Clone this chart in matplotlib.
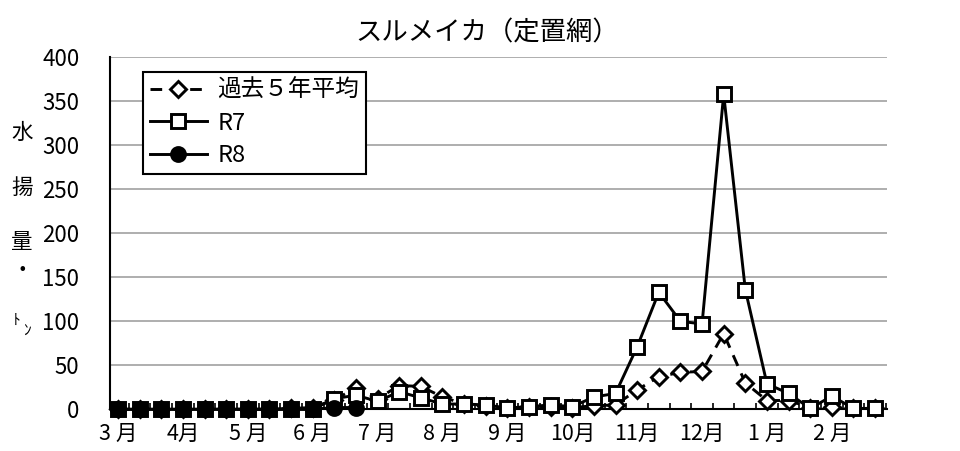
import matplotlib
matplotlib.use('Agg')
import matplotlib.pyplot as plt

plt.rcParams['font.family'] = ['Noto Sans CJK JP', 'DejaVu Sans']

# 36 periods: 12 months x 3 (上旬・中旬・下旬), March to February
months = ['3 月', '4月', '5 月', '6 月', '7 月', '8 月', '9 月', '10月', '11月', '12月', '1 月', '2 月']
periods_per_month = 3

past5 = [0, 0, 0, 0, 0, 0, 0, 0, 1, 2,
         11, 24, 12, 27, 26, 14, 6, 4, 2, 3,
         3, 2, 4, 5, 22, 37, 42, 43, 86, 30,
         10, 10, 2, 3, 1, 1]
r7 = [0, 0, 0, 0, 0, 0, 0, 0, 0, 0,
      12, 16, 9, 20, 13, 6, 6, 5, 1.5, 3,
      5, 3, 14, 18, 71, 133, 100, 97, 358, 136,
      29, 18, 1, 15, 1, 1]
r8 = [0, 0, 0, 0, 0, 0, 0, 0, 0, 0, 2, 2]

series_labels = ['過去５年平均', 'R7', 'R8']
title = 'スルメイカ（定置網）'

n = len(months) * periods_per_month
x = list(range(n))

W, H = 960, 451
fig = plt.figure(figsize=(W / 100, H / 100), dpi=100)
ax_left, ax_right, ax_top, ax_bottom = 110, 887, 57.3, 409.3
ax = fig.add_axes([ax_left / W, (H - ax_bottom) / H, (ax_right - ax_left) / W, (ax_bottom - ax_top) / H])

ax.set_xlim(-0.37, n - 1 + 0.55)
ax.set_ylim(0, 400)
ax.set_yticks(range(0, 401, 50))
ax.yaxis.grid(True, color='#a8a8a8', lw=1.3)
ax.set_axisbelow(True)
for s in ['top', 'right']:
    ax.spines[s].set_visible(False)
for s in ['left', 'bottom']:
    ax.spines[s].set_color('black')
    ax.spines[s].set_linewidth(1.5)

lw = 2.1
ax.plot(x, past5, ls=(0, (4, 2.8)), color='black', lw=lw, marker='D', ms=8.5,
        mfc='white', mec='black', mew=lw, label=series_labels[0], clip_on=False, zorder=3)
ax.plot(x, r7, ls='-', color='black', lw=lw, marker='s', ms=10,
        mfc='white', mec='black', mew=lw, label=series_labels[1], clip_on=False, zorder=4)
ax.plot(x[:len(r8)], r8, ls='-', color='black', lw=lw, marker='o', ms=10,
        mfc='black', mec='black', mew=lw, label=series_labels[2], clip_on=False, zorder=5)

ax.set_xticks([i * periods_per_month for i in range(len(months))])
ax.set_xticklabels(months, fontsize=15.5)
ax.set_xticks([i + 0.5 for i in range(n)], minor=True)
ax.tick_params(axis='x', which='major', length=0, pad=10)
ax.tick_params(axis='x', which='minor', direction='in', length=4, width=1.2, color='black')
ax.tick_params(axis='y', length=0, pad=22, labelsize=16)

leg = ax.legend(loc='upper left',
                bbox_to_anchor=((143 - ax_left) / (ax_right - ax_left), (ax_bottom - 72) / (ax_bottom - ax_top)),
                borderaxespad=0, frameon=True, fancybox=False, edgecolor='black', framealpha=1,
                fontsize=17, handlelength=2.4, handletextpad=0.45, labelspacing=0.4, borderpad=0.3)
leg.get_frame().set_linewidth(1.5)

fig.text(487 / W, 1 - 33 / H, title, ha='center', va='center', fontsize=19)

# vertical y-axis label
for ch, yy in [('水', 133), ('揚', 188), ('量', 242), ('・', 271)]:
    fig.text(22 / W, 1 - yy / H, ch, ha='center', va='center', fontsize=15.5)
fig.text(17 / W, 1 - 320 / H, 'ﾄ', ha='center', va='center', fontsize=11)
fig.text(27 / W, 1 - 330 / H, 'ﾝ', ha='center', va='center', fontsize=11)

fig.savefig('out.png', dpi=100)
